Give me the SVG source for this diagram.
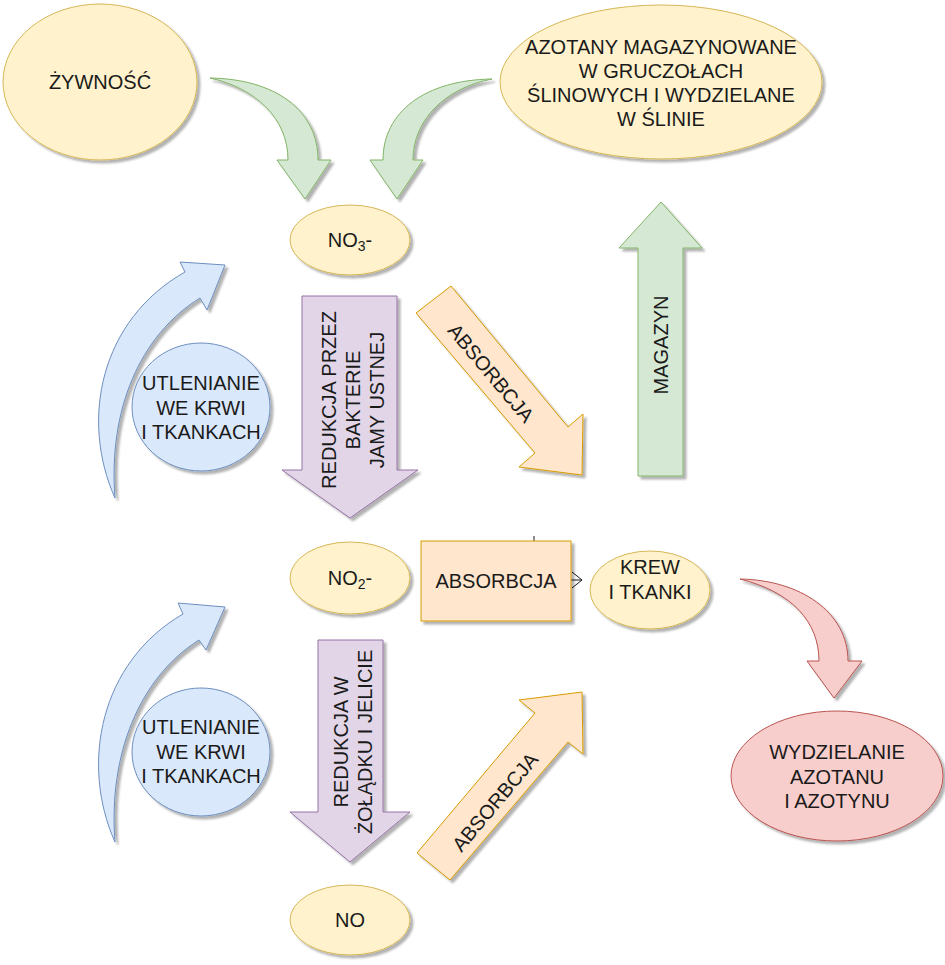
<svg xmlns="http://www.w3.org/2000/svg" width="945" height="965" viewBox="0 0 945 965">
<defs>
<filter id="sh" x="-20%" y="-20%" width="150%" height="150%">
<feDropShadow dx="3" dy="3" stdDeviation="1.2" flood-color="#000" flood-opacity="0.3"/>
</filter>
<style>
.y{fill:#fff2cc;stroke:#d6b656;stroke-width:1;filter:url(#sh)}
.g{fill:#d5e8d4;stroke:#82b366;stroke-width:1;filter:url(#sh)}
.b{fill:#dae8fc;stroke:#6c8ebf;stroke-width:1;filter:url(#sh)}
.p{fill:#e1d5e7;stroke:#9673a6;stroke-width:1;filter:url(#sh)}
.o{fill:#ffe6cc;stroke:#d79b00;stroke-width:1;filter:url(#sh)}
.r{fill:#f8cecc;stroke:#b85450;stroke-width:1;filter:url(#sh)}
text{font-family:"Liberation Sans",Arial,sans-serif;font-size:20px;fill:#1a1a1a;text-anchor:middle;dominant-baseline:central}
.sub{font-size:14px}
</style>
</defs>
<rect width="945" height="965" fill="#fff"/>

<g id="connectors">
<path d="M440 580 H582" fill="none" stroke="#1a1a1a" stroke-width="1"/>
<path d="M572 572 L582 580 L572 588" fill="none" stroke="#1a1a1a" stroke-width="1"/>
<path d="M534 536 V541" fill="none" stroke="#1a1a1a" stroke-width="1"/>
</g>

<g id="zywnosc">
<ellipse class="y" cx="100" cy="82" rx="97" ry="78"/>
<text x="100" y="82">ŻYWNOŚĆ</text>
</g>

<g id="azotany">
<ellipse class="y" cx="661" cy="82" rx="161" ry="77"/>
<text x="661" y="47">AZOTANY MAGAZYNOWANE</text>
<text x="661" y="71">W GRUCZOŁACH</text>
<text x="661" y="95">ŚLINOWYCH I WYDZIELANE</text>
<text x="661" y="119">W ŚLINIE</text>
</g>

<g id="arrow-food">
<path class="g" d="M210 78 C275 79 318 110 318 160 L331 160 L305 199 L277 160 L288 160 C288 118 255 88 210 78 Z"/>
</g>

<g id="arrow-saliva">
<path class="g" d="M492 79 C425 80 383 112 383 160 L370 160 L397 199 L423 160 L413 160 C413 120 445 88 492 79 Z"/>
</g>

<g id="no3">
<ellipse class="y" cx="350" cy="240" rx="60" ry="35"/>
<text x="350" y="240">NO<tspan class="sub" dy="6">3</tspan><tspan dy="-6">-</tspan></text>
</g>

<g id="arrow-ox1">
<path class="b" d="M115 498 C80 420 100 320 185 272 L180 262 L225 265 L207 310 L200 298 C140 335 108 410 115 498 Z"/>
</g>

<g id="utl1">
<ellipse class="b" cx="201" cy="407" rx="69" ry="64"/>
<text x="201" y="383">UTLENIANIE</text>
<text x="201" y="408">WE KRWI</text>
<text x="201" y="432">I TKANKACH</text>
</g>

<g id="red1">
<path class="p" d="M302 296 H397 V470 H418 L350 518 L282 470 H302 Z"/>
<text transform="translate(353,400) rotate(-90)"><tspan x="0" y="-24">REDUKCJA PRZEZ</tspan><tspan x="0" y="0">BAKTERIE</tspan><tspan x="0" y="24">JAMY USTNEJ</tspan></text>
</g>

<g id="abs1">
<path class="o" d="M416 313 L451 286 L568 427 L583 414 L582 475 L519 467 L535 453 Z"/>
<text transform="translate(491,373) rotate(50)">ABSORBCJA</text>
</g>

<g id="magazyn">
<path class="g" d="M638 476 V248 H619 L661 202 L702 248 H683 V476 Z"/>
<text transform="translate(661,345) rotate(-90)">MAGAZYN</text>
</g>

<g id="no2">
<ellipse class="y" cx="350" cy="578" rx="60" ry="36"/>
<text x="350" y="578">NO<tspan class="sub" dy="6">2</tspan><tspan dy="-6">-</tspan></text>
</g>

<g id="abs-mid">
<rect class="o" x="421" y="541" width="150" height="80"/>
<text x="496" y="581">ABSORBCJA</text>
</g>

<g id="krew">
<ellipse class="y" cx="650" cy="590" rx="60" ry="39"/>
<text x="650" y="567">KREW</text>
<text x="650" y="592">I TKANKI</text>
</g>

<g id="arrow-excr">
<path class="r" d="M740 579 C800 580 848 612 848 661 L862 661 L834 698 L807 661 L819 661 C819 622 792 592 740 579 Z"/>
</g>

<g id="wydzielanie">
<ellipse class="r" cx="837" cy="776" rx="106" ry="65"/>
<text x="837" y="752">WYDZIELANIE</text>
<text x="837" y="777">AZOTANU</text>
<text x="837" y="801">I AZOTYNU</text>
</g>

<g id="arrow-ox2">
<path class="b" d="M115 842 C80 764 100 662 183 614 L178 603 L225 607 L206 650 L199 640 C140 677 108 754 115 842 Z"/>
</g>

<g id="utl2">
<ellipse class="b" cx="201" cy="752" rx="69" ry="64"/>
<text x="201" y="727">UTLENIANIE</text>
<text x="201" y="752">WE KRWI</text>
<text x="201" y="776">I TKANKACH</text>
</g>

<g id="red2">
<path class="p" d="M318 640 H383 V812 H410 L350 862 L290 812 H318 Z"/>
<text transform="translate(353,742) rotate(-90)"><tspan x="0" y="-12">REDUKCJA W</tspan><tspan x="0" y="12">ŻOŁĄDKU I JELICIE</tspan></text>
</g>

<g id="abs2">
<path class="o" d="M417 853 L535 713 L519 700 L582 692 L583 754 L568 742 L450 880 Z"/>
<text transform="translate(495,802) rotate(-50)">ABSORBCJA</text>
</g>

<g id="no">
<ellipse class="y" cx="350" cy="920" rx="60" ry="35"/>
<text x="350" y="920">NO</text>
</g>
</svg>
